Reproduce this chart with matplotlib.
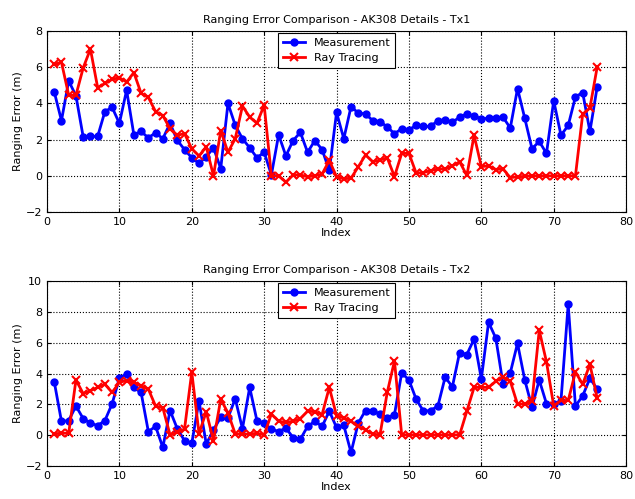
import matplotlib.pyplot as plt
import numpy as np

# data
index = np.arange(1, 77)

meas_tx1 = [4.64, 3.05, 5.24, 4.42, 2.15, 2.18, 2.18, 3.55, 3.78, 2.9,
            4.73, 2.27, 2.45, 2.1, 2.38, 2.05, 2.9, 1.96, 1.45, 1.0,
            0.7, 1.05, 1.55, 0.4, 4.0, 2.8, 2.05, 1.55, 1.0, 1.3,
            0.05, 2.27, 1.1, 1.95, 2.4, 1.3, 1.95, 1.45, 0.3, 3.5,
            2.05, 3.82, 3.47, 3.42, 3.05, 3.0, 2.7, 2.33, 2.6, 2.55,
            2.78, 2.73, 2.73, 3.05, 3.09, 2.96, 3.24, 3.42, 3.3, 3.15,
            3.18, 3.2, 3.24, 2.64, 4.82, 3.18, 1.5, 1.9, 1.24, 4.15,
            2.24, 2.78, 4.36, 4.6, 2.45, 4.9]
ray_tx1 = [6.15, 6.27, 4.45, 4.45, 5.96, 7.0, 4.87, 5.1, 5.33, 5.42,
           5.18, 5.7, 4.56, 4.33, 3.55, 3.33, 2.6, 2.24, 2.33, 1.5,
           1.1, 1.6, 0.0, 2.5, 1.3, 2.05, 3.85, 3.25, 2.9, 3.9,
           0.0, 0.0, -0.35, 0.05, 0.05, -0.05, 0.0, 0.1, 0.85, -0.05,
           -0.16, -0.13, 0.5, 1.15, 0.78, 0.87, 1.0, -0.04, 1.24, 1.24,
           0.15, 0.18, 0.29, 0.38, 0.38, 0.55, 0.78, 0.02, 2.24, 0.51,
           0.55, 0.35, 0.38, -0.1, -0.05, -0.03, 0.0, 0.0, 0.0, 0.0,
           0.0, 0.0, 0.0, 3.4, 3.75, 6.0]

meas_tx2 = [3.47, 0.9, 0.95, 1.89, 1.08, 0.79, 0.62, 0.95, 2.04, 3.69,
            3.98, 3.1, 2.77, 0.24, 0.57, -0.79, 1.6, 0.42, -0.35, -0.53,
            2.22, -0.57, 0.35, 1.16, 1.12, 2.37, 0.42, 3.1, 0.95, 0.77,
            0.4, 0.24, 0.46, -0.15, -0.26, 0.57, 0.9, 0.57, 1.56, 0.5,
            0.64, -1.12, 0.79, 1.6, 1.56, 1.38, 1.12, 1.34, 4.04, 3.58,
            2.33, 1.56, 1.6, 1.89, 3.76, 3.14, 5.36, 5.23, 6.24, 3.65,
            7.32, 6.29, 3.32, 4.04, 5.96, 3.58, 1.82, 3.58, 2.04, 2.0,
            2.22, 8.48, 1.89, 2.55, 3.69, 2.99]
ray_tx2 = [0.09, 0.13, 0.13, 3.58, 2.7, 2.88, 3.1, 3.3, 2.77, 3.43,
           3.54, 3.43, 3.21, 2.99, 1.89, 1.78, 0.02, 0.18, 0.4, 4.09,
           0.11, 1.52, -0.35, 2.33, 1.45, 0.09, 0.07, 0.07, 0.13, 0.02,
           1.38, 0.9, 0.84, 0.9, 1.08, 1.56, 1.52, 1.34, 3.1, 1.27,
           1.12, 0.9, 0.57, 0.35, 0.07, 0.02, 2.77, 4.81, 0.02, 0.02,
           0.02, 0.02, 0.02, 0.02, 0.02, 0.02, 0.02, 1.56, 3.1, 3.1,
           3.1, 3.5, 3.76, 3.5, 2.0, 2.04, 2.2, 6.8, 4.75, 1.9,
           2.25, 2.25, 4.1, 3.3, 4.6, 2.4]

titles = ['Ranging Error Comparison - AK308 Details - Tx1',
          'Ranging Error Comparison - AK308 Details - Tx2']

fig = plt.figure(figsize=(6.35, 4.99), dpi=100)
ax1 = fig.add_axes([0.074, 0.575, 0.912, 0.363])
ax2 = fig.add_axes([0.074, 0.066, 0.912, 0.371])

for ax, meas, ray, title, ymax in [(ax1, meas_tx1, ray_tx1, titles[0], 8),
                                   (ax2, meas_tx2, ray_tx2, titles[1], 10)]:
    ax.plot(index, meas, 'b-o', lw=2, ms=5, label='Measurement')
    ax.plot(index, ray, 'r-x', lw=2, ms=6, mew=1.5, label='Ray Tracing')
    ax.set_xlim(0, 80)
    ax.set_ylim(-2, ymax)
    ax.set_xticks(np.arange(0, 81, 10))
    ax.set_yticks(np.arange(-2, ymax + 1, 2))
    ax.grid(True, linestyle=':', color='black', linewidth=0.8)
    ax.tick_params(direction='in', top=True, right=True, labelsize=8, length=3)
    ax.set_title(title, fontsize=8)
    ax.set_xlabel('Index', fontsize=8, labelpad=1)
    ax.set_ylabel('Ranging Error (m)', fontsize=8, labelpad=2)
    leg = ax.legend(loc='upper center', fontsize=8, fancybox=False,
                    framealpha=1, edgecolor='black', borderaxespad=0.2)
    leg.get_frame().set_linewidth(0.8)

plt.savefig('out.png')
